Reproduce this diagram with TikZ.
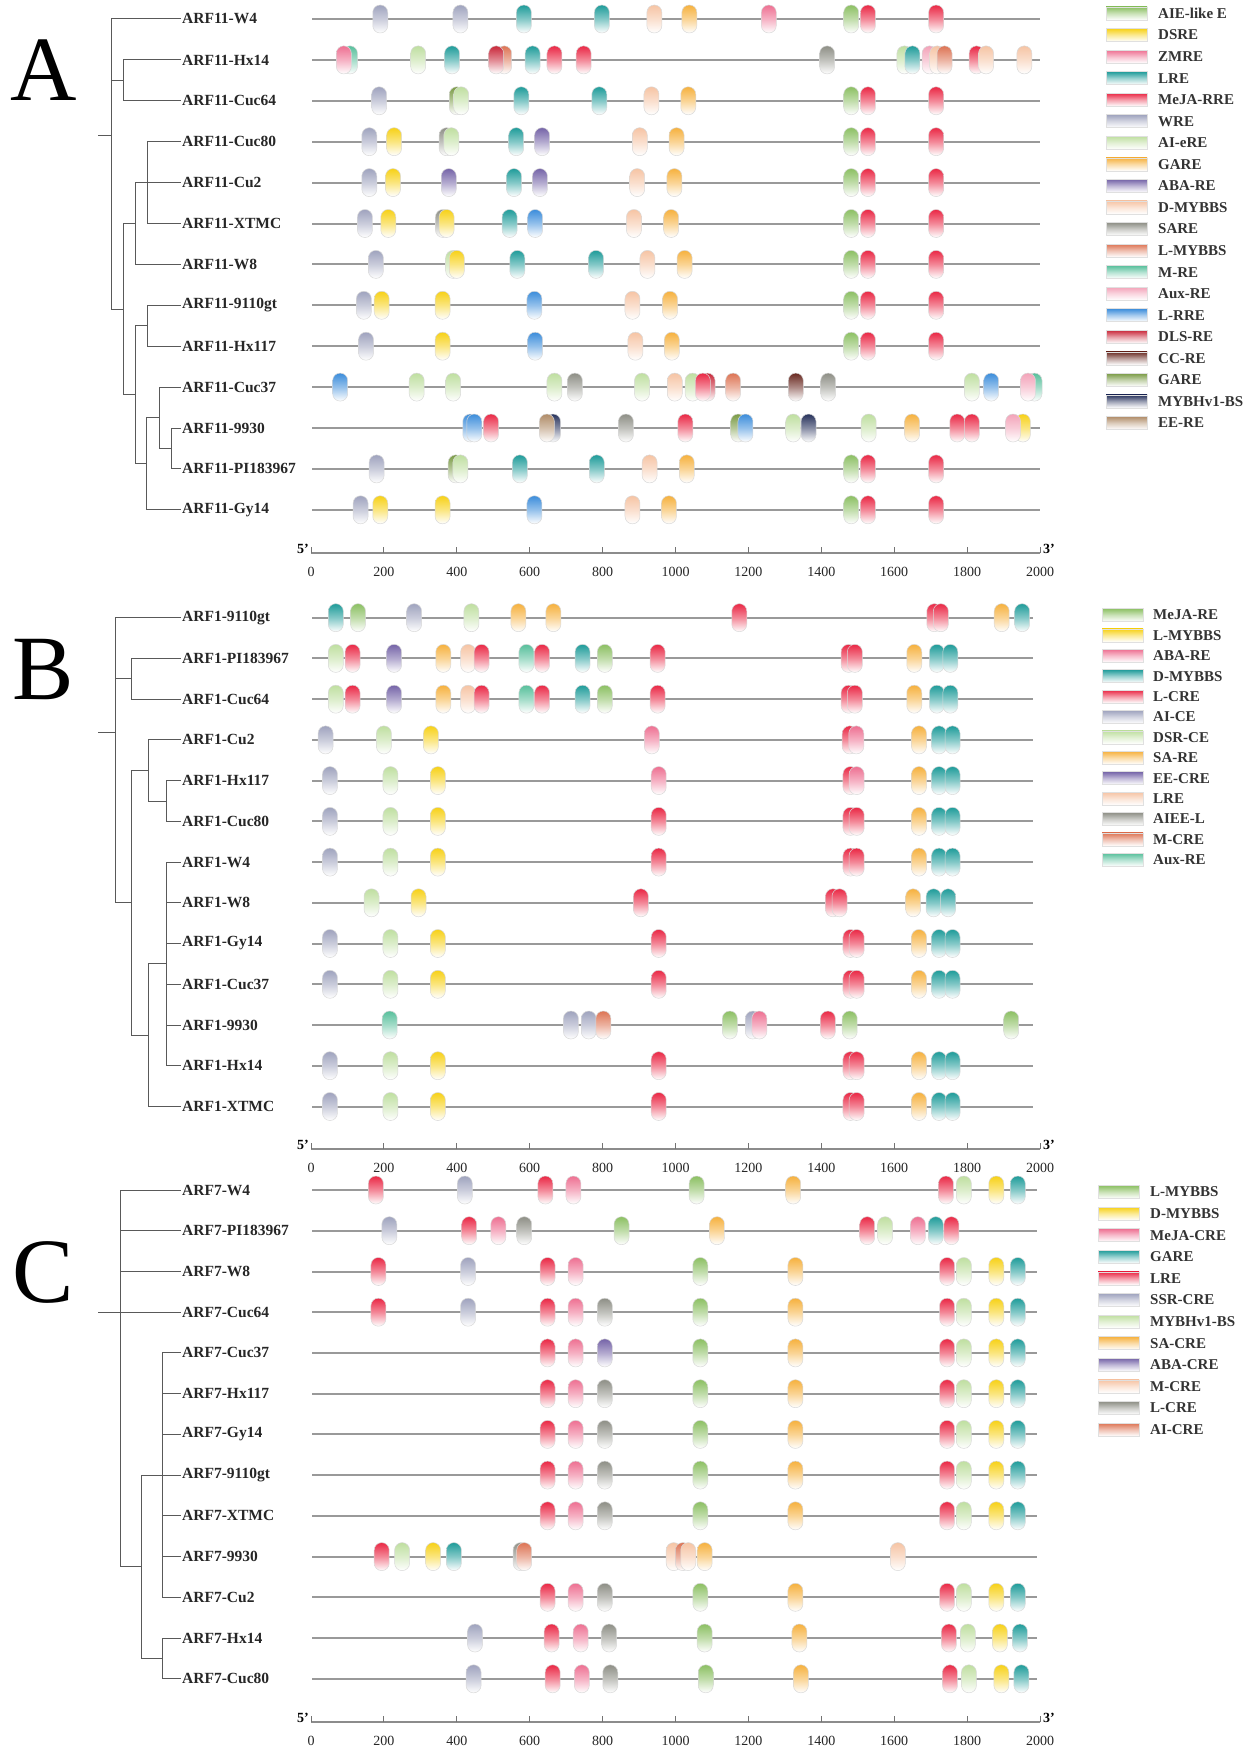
\documentclass[tikz,border=0pt]{standalone}
\usepackage{fontspec}
\setmainfont{Liberation Serif}
\usepackage{xcolor}
\definecolor{mgreen}{HTML}{8CC063}
\definecolor{myellow}{HTML}{F7D117}
\definecolor{mpink}{HTML}{EE7092}
\definecolor{mteal}{HTML}{1F9C9A}
\definecolor{mred}{HTML}{EA2845}
\definecolor{mlav}{HTML}{9FA3BE}
\definecolor{mlgreen}{HTML}{BFDFA0}
\definecolor{morange}{HTML}{F6B13E}
\definecolor{mpurple}{HTML}{7564A8}
\definecolor{mpeach}{HTML}{F6C4A4}
\definecolor{mgrey}{HTML}{8E8F86}
\definecolor{msalmon}{HTML}{DD7454}
\definecolor{mmint}{HTML}{58C09C}
\definecolor{mlpink}{HTML}{F3A3B9}
\definecolor{mblue}{HTML}{3C8DDB}
\definecolor{mcrimson}{HTML}{C9283A}
\definecolor{mbrown}{HTML}{6A2A22}
\definecolor{molive}{HTML}{7A9B45}
\definecolor{mnavy}{HTML}{27325C}
\definecolor{mtan}{HTML}{B08C68}
\tikzset{
  leaf/.style   = {anchor=west, inner sep=1pt, text=black!85,
                   font=\fontsize{15.5}{16}\selectfont\bfseries},
  tree/.style   = {draw=black!65, line width=1pt},
  gene/.style   = {draw=black!40, line width=2pt},
  motif/.style  = {rounded corners=7.4pt, draw=black!15, line width=0.5pt,
                   top color=#1, bottom color=white, middle color=#1!55!white},
  legbox/.style = {draw=black!12, line width=0.5pt,
                   top color=#1, bottom color=white, middle color=#1!45!white},
  legtxt/.style = {anchor=west, inner sep=0pt, text=black!80,
                   font=\fontsize{15}{15}\selectfont\bfseries},
  axline/.style = {draw=black!45, line width=2.2pt},
  axtick/.style = {draw=black!55, line width=1pt},
  ticklab/.style= {inner sep=0pt, text=black!85, font=\fontsize{14}{14}\selectfont},
  prime/.style  = {inner sep=0pt, font=\fontsize{14}{14}\selectfont\bfseries},
  panel/.style  = {inner sep=0pt, font=\fontsize{92}{92}\selectfont}
}

\begin{document}
\begin{tikzpicture}[x=1pt,y=-1pt]
	\def\xo{311}
	\def\bp{0.3645}
	\useasboundingbox (0,0) rectangle (1260,1758);

	% Panel letters
	\node[panel] (pA) at (44,70) {A};
	\node[panel] (pB) at (43,670) {B};
	\node[panel] (pC) at (43,1272) {C};

	%%%%%%%%%%%%%%%%%%%%%%%% A : ARF11
	% Labels
	\node[leaf] (aW4)    at (181,19)    {ARF11-W4};
	\node[leaf] (aHx14)  at (181,59.9)  {ARF11-Hx14};
	\node[leaf] (aCuc64) at (181,100.8) {ARF11-Cuc64};
	\node[leaf] (aCuc80) at (181,141.7) {ARF11-Cuc80};
	\node[leaf] (aCu2)   at (181,182.6) {ARF11-Cu2};
	\node[leaf] (aXTMC)  at (181,223.5) {ARF11-XTMC};
	\node[leaf] (aW8)    at (181,264.4) {ARF11-W8};
	\node[leaf] (a9110)  at (181,305.3) {ARF11-9110gt};
	\node[leaf] (aHx117) at (181,346.2) {ARF11-Hx117};
	\node[leaf] (aCuc37) at (181,387.1) {ARF11-Cuc37};
	\node[leaf] (a9930)  at (181,428)   {ARF11-9930};
	\node[leaf] (aPI)    at (181,468.9) {ARF11-PI183967};
	\node[leaf] (aGy14)  at (181,509.8) {ARF11-Gy14};

	% Tree
	\coordinate (aS) at (98,136);
	\coordinate (aR) at (111.7,136);
	\coordinate (a1) at (123,80.4);
	\coordinate (a2) at (123,309);
	\coordinate (a3) at (135,223.5);
	\coordinate (a4) at (147.5,182.6);
	\coordinate (a5) at (135,394.8);
	\coordinate (a6) at (147.5,325.8);
	\coordinate (a7) at (146.7,463.8);
	\coordinate (a8) at (159,417.8);
	\coordinate (a9) at (171,448.5);
	\draw[tree] (aS) -- (aR);
	\draw[tree] (aR) |- (aW4.west);
	\draw[tree] (aR) |- (a1);
	\draw[tree] (a1) |- (aHx14.west);
	\draw[tree] (a1) |- (aCuc64.west);
	\draw[tree] (aR) |- (a2);
	\draw[tree] (a2) |- (a3);
	\draw[tree] (a3) |- (a4);
	\draw[tree] (a4) |- (aCuc80.west);
	\draw[tree] (a4) -- (aCu2.west);
	\draw[tree] (a4) |- (aXTMC.west);
	\draw[tree] (a3) |- (aW8.west);
	\draw[tree] (a2) |- (a5);
	\draw[tree] (a5) |- (a6);
	\draw[tree] (a6) |- (a9110.west);
	\draw[tree] (a6) |- (aHx117.west);
	\draw[tree] (a5) |- (a7);
	\draw[tree] (a7) |- (a8);
	\draw[tree] (a8) |- (aCuc37.west);
	\draw[tree] (a8) |- (a9);
	\draw[tree] (a9) |- (a9930.west);
	\draw[tree] (a9) |- (aPI.west);
	\draw[tree] (a7) |- (aGy14.west);

	% Genes
	\foreach \y in {19,59.9,100.8,141.7,182.6,223.5,264.4,305.3,346.2,387.1,428,468.9,509.8}
		\draw[gene] (312,\y) -- (1040,\y);

	% Motifs
	\foreach \c/\p in {mlav/190,mlav/410,mteal/584,mteal/798,mpeach/942,morange/1038,mpink/1256,mgreen/1482,mred/1528,mred/1715}
		\path[motif=\c] ({\xo+\p*\bp},19) +(-7.5,-14) rectangle +(7.5,14); % W4
	\foreach \c/\p in {mmint/107,mpink/90,mlgreen/294,mteal/387,msalmon/530,mcrimson/508,mteal/608,mred/668,mred/748,mgrey/1416,mlgreen/1628,mteal/1650,mlpink/1697,mpeach/1718,msalmon/1738,mred/1826,mpeach/1852,mpeach/1957}
		\path[motif=\c] ({\xo+\p*\bp},59.9) +(-7.5,-14) rectangle +(7.5,14); % Hx14
	\foreach \c/\p in {mlav/187,molive/400,mlgreen/412,mteal/577,mteal/791,mpeach/934,morange/1035,mgreen/1482,mred/1528,mred/1715}
		\path[motif=\c] ({\xo+\p*\bp},100.8) +(-7.5,-14) rectangle +(7.5,14); % Cuc64
	\foreach \c/\p in {mlav/160,myellow/228,mgrey/372,mlgreen/385,mteal/563,mpurple/634,mpeach/902,morange/1003,mgreen/1482,mred/1528,mred/1715}
		\path[motif=\c] ({\xo+\p*\bp},141.7) +(-7.5,-14) rectangle +(7.5,14); % Cuc80
	\foreach \c/\p in {mlav/160,myellow/225,mpurple/378,mteal/557,mpurple/628,mpeach/895,morange/997,mgreen/1482,mred/1528,mred/1715}
		\path[motif=\c] ({\xo+\p*\bp},182.6) +(-7.5,-14) rectangle +(7.5,14); % Cu2
	\foreach \c/\p in {mlav/148,myellow/212,mgrey/362,myellow/372,mteal/545,mblue/615,mpeach/886,morange/988,mgreen/1482,mred/1528,mred/1715}
		\path[motif=\c] ({\xo+\p*\bp},223.5) +(-7.5,-14) rectangle +(7.5,14); % XTMC
	\foreach \c/\p in {mlav/178,mlgreen/390,myellow/400,mteal/566,mteal/782,mpeach/923,morange/1025,mgreen/1482,mred/1528,mred/1715}
		\path[motif=\c] ({\xo+\p*\bp},264.4) +(-7.5,-14) rectangle +(7.5,14); % W8
	\foreach \c/\p in {mlav/145,myellow/194,myellow/361,mblue/613,mpeach/882,morange/985,mgreen/1482,mred/1528,mred/1715}
		\path[motif=\c] ({\xo+\p*\bp},305.3) +(-7.5,-14) rectangle +(7.5,14); % 9110gt
	\foreach \c/\p in {mlav/151,myellow/361,mblue/615,mpeach/890,morange/990,mgreen/1482,mred/1528,mred/1715}
		\path[motif=\c] ({\xo+\p*\bp},346.2) +(-7.5,-14) rectangle +(7.5,14); % Hx117
	\foreach \c/\p in {mblue/80,mlgreen/290,mlgreen/390,mlgreen/668,mgrey/724,mlgreen/908,mpeach/998,mlgreen/1047,mcrimson/1088,mred/1075,msalmon/1158,mbrown/1330,mgrey/1419,mlgreen/1813,mblue/1866,mmint/1985,mlpink/1967}
		\path[motif=\c] ({\xo+\p*\bp},387.1) +(-7.5,-14) rectangle +(7.5,14); % Cuc37
	\foreach \c/\p in {mblue/437,mblue/448,mred/494,mnavy/664,mtan/647,mgrey/864,mred/1027,molive/1172,mblue/1192,mlgreen/1323,mnavy/1365,mlgreen/1530,morange/1649,mred/1773,mred/1813,myellow/1953,mlpink/1926}
		\path[motif=\c] ({\xo+\p*\bp},428) +(-7.5,-14) rectangle +(7.5,14); % 9930
	\foreach \c/\p in {mlav/180,molive/397,mlgreen/410,mteal/573,mteal/784,mpeach/929,morange/1031,mgreen/1482,mred/1528,mred/1715}
		\path[motif=\c] ({\xo+\p*\bp},468.9) +(-7.5,-14) rectangle +(7.5,14); % PI183967
	\foreach \c/\p in {mlav/136,myellow/190,myellow/361,mblue/613,mpeach/882,morange/982,mgreen/1482,mred/1528,mred/1715}
		\path[motif=\c] ({\xo+\p*\bp},509.8) +(-7.5,-14) rectangle +(7.5,14); % Gy14

	% Axis
	\draw[axline] (\xo,553) -- ({\xo+2000*\bp},553);
	\foreach \t in {0,200,...,2000} {
		\draw[axtick] ({\xo+\t*\bp},553) -- ++(0,-6);
		\node[ticklab] (tA\t) at ({\xo+\t*\bp},572) {\t};
	}
	\node[prime, anchor=east] (fA) at (309,549) {5'};
	\node[prime, anchor=west] (eA) at (1043,549) {3'};

	% Legend
	\foreach \c/\t [count=\i from 0] in {mgreen/AIE-like E,myellow/DSRE,mpink/ZMRE,mteal/LRE,mred/MeJA-RRE,mlav/WRE,mlgreen/AI-eRE,morange/GARE,mpurple/ABA-RE,mpeach/D-MYBBS,mgrey/SARE,msalmon/L-MYBBS,mmint/M-RE,mlpink/Aux-RE,mblue/L-RRE,mcrimson/DLS-RE,mbrown/CC-RE,molive/GARE,mnavy/MYBHv1-BS,mtan/EE-RE} {
		\path[legbox=\c] (1106,{13.5+21.55*\i-6.5}) rectangle ++(41,13);
		\node[legtxt] (lgA\i) at (1158,{13.5+21.55*\i}) {\t};
	}

	%%%%%%%%%%%%%%%%%%%%%%%% B : ARF1
	% Labels
	\node[leaf] (b9110)  at (181,617.7)  {ARF1-9110gt};
	\node[leaf] (bPI)    at (181,658.4)  {ARF1-PI183967};
	\node[leaf] (bCuc64) at (181,699.2)  {ARF1-Cuc64};
	\node[leaf] (bCu2)   at (181,739.9)  {ARF1-Cu2};
	\node[leaf] (bHx117) at (181,780.6)  {ARF1-Hx117};
	\node[leaf] (bCuc80) at (181,821.4)  {ARF1-Cuc80};
	\node[leaf] (bW4)    at (181,862.1)  {ARF1-W4};
	\node[leaf] (bW8)    at (181,902.8)  {ARF1-W8};
	\node[leaf] (bGy14)  at (181,943.5)  {ARF1-Gy14};
	\node[leaf] (bCuc37) at (181,984.3)  {ARF1-Cuc37};
	\node[leaf] (b9930)  at (181,1025)   {ARF1-9930};
	\node[leaf] (bHx14)  at (181,1065.7) {ARF1-Hx14};
	\node[leaf] (bXTMC)  at (181,1106.5) {ARF1-XTMC};

	% Tree
	\coordinate (bS) at (98,732);
	\coordinate (bR) at (115,732);
	\coordinate (b1) at (131.7,678.8);
	\coordinate (b4) at (131.7,902.9);
	\coordinate (b5) at (148,770.5);
	\coordinate (b6) at (166,801);
	\coordinate (b7) at (148,1035.2);
	\coordinate (b8) at (166,963.9);
	\draw[tree] (bS) -- (bR);
	\draw[tree] (bR) |- (b9110.west);
	\draw[tree] (bR) |- (b1);
	\draw[tree] (b1) |- (bPI.west);
	\draw[tree] (b1) |- (bCuc64.west);
	\draw[tree] (bR) |- (b4);
	\draw[tree] (b4) |- (b5);
	\draw[tree] (b5) |- (bCu2.west);
	\draw[tree] (b5) |- (b6);
	\draw[tree] (b6) |- (bHx117.west);
	\draw[tree] (b6) |- (bCuc80.west);
	\draw[tree] (b4) |- (b7);
	\draw[tree] (b7) |- (b8);
	\draw[tree] (b8) |- (bW4.west);
	\draw[tree] (b8) |- (bW8.west);
	\draw[tree] (b8) |- (bGy14.west);
	\draw[tree] (b8) |- (bCuc37.west);
	\draw[tree] (b8) |- (b9930.west);
	\draw[tree] (b8) |- (bHx14.west);
	\draw[tree] (b7) |- (bXTMC.west);

	% Genes
	\foreach \y in {617.7,658.4,699.2,739.9,780.6,821.4,862.1,902.8,943.5,984.3,1025,1065.7,1106.5}
		\draw[gene] (312,\y) -- (1033,\y);

	% Motifs
	\foreach \c/\p in {mteal/68,mgreen/129,mlav/283,mlgreen/440,morange/569,morange/665,mred/1175,mred/1710,mred/1728,morange/1895,mteal/1951}
		\path[motif=\c] ({\xo+\p*\bp},617.7) +(-7.5,-14) rectangle +(7.5,14); % 9110gt
	\foreach \c/\p in {mlgreen/68,mred/114,mpurple/228,morange/363,mpeach/431,mred/468,mmint/591,mred/634,mteal/745,mgreen/806,mred/951,mred/1475,mred/1492,morange/1655,mteal/1717,mteal/1754}
		\path[motif=\c] ({\xo+\p*\bp},658.4) +(-7.5,-14) rectangle +(7.5,14); % PI183967
	\foreach \c/\p in {mlgreen/68,mred/114,mpurple/228,morange/363,mpeach/431,mred/468,mmint/591,mred/634,mteal/745,mgreen/806,mred/951,mred/1475,mred/1492,morange/1655,mteal/1717,mteal/1754}
		\path[motif=\c] ({\xo+\p*\bp},699.2) +(-7.5,-14) rectangle +(7.5,14); % Cuc64
	\foreach \c/\p in {mlav/40,mlgreen/200,myellow/329,mpink/935,mred/1478,mpink/1496,morange/1668,mteal/1723,mteal/1760}
		\path[motif=\c] ({\xo+\p*\bp},739.9) +(-7.5,-14) rectangle +(7.5,14); % Cu2
	\foreach \c/\p in {mlav/52,mlgreen/218,myellow/348,mpink/954,mred/1480,mpink/1497,morange/1668,mteal/1723,mteal/1760}
		\path[motif=\c] ({\xo+\p*\bp},780.6) +(-7.5,-14) rectangle +(7.5,14); % Hx117
	\foreach \y in {821.4,862.1,943.5,984.3,1065.7,1106.5}
		\foreach \c/\p in {mlav/52,mlgreen/218,myellow/348,mred/954,mred/1480,mred/1497,morange/1668,mteal/1723,mteal/1760}
			\path[motif=\c] ({\xo+\p*\bp},\y) +(-7.5,-14) rectangle +(7.5,14); % Cuc80 W4 Gy14 Cuc37 Hx14 XTMC
	\foreach \c/\p in {mlgreen/166,myellow/295,mred/905,mred/1432,mred/1450,morange/1652,mteal/1708,mteal/1748}
		\path[motif=\c] ({\xo+\p*\bp},902.8) +(-7.5,-14) rectangle +(7.5,14); % W8
	\foreach \c/\p in {mmint/216,mlav/713,mlav/762,msalmon/802,mgreen/1149,mlav/1212,mpink/1230,mred/1418,mgreen/1478,mgreen/1921}
		\path[motif=\c] ({\xo+\p*\bp},1025) +(-7.5,-14) rectangle +(7.5,14); % 9930

	% Axis
	\draw[axline] (\xo,1149) -- ({\xo+2000*\bp},1149);
	\foreach \t in {0,200,...,2000} {
		\draw[axtick] ({\xo+\t*\bp},1149) -- ++(0,-6);
		\node[ticklab] (tB\t) at ({\xo+\t*\bp},1168) {\t};
	}
	\node[prime, anchor=east] (fB) at (309,1145) {5'};
	\node[prime, anchor=west] (eB) at (1043,1145) {3'};

	% Legend
	\foreach \c/\t [count=\i from 0] in {mgreen/MeJA-RE,myellow/L-MYBBS,mpink/ABA-RE,mteal/D-MYBBS,mred/L-CRE,mlav/AI-CE,mlgreen/DSR-CE,morange/SA-RE,mpurple/EE-CRE,mpeach/LRE,mgrey/AIEE-L,msalmon/M-CRE,mmint/Aux-RE} {
		\path[legbox=\c] (1102,{615+20.4*\i-6.5}) rectangle ++(41,13);
		\node[legtxt] (lgB\i) at (1153,{615+20.4*\i}) {\t};
	}

	%%%%%%%%%%%%%%%%%%%%%%%% C : ARF7
	% Labels
	\node[leaf] (cW4)    at (181,1190)   {ARF7-W4};
	\node[leaf] (cPI)    at (181,1230.7) {ARF7-PI183967};
	\node[leaf] (cW8)    at (181,1271.5) {ARF7-W8};
	\node[leaf] (cCuc64) at (181,1312.2) {ARF7-Cuc64};
	\node[leaf] (cCuc37) at (181,1352.9) {ARF7-Cuc37};
	\node[leaf] (cHx117) at (181,1393.7) {ARF7-Hx117};
	\node[leaf] (cGy14)  at (181,1434.4) {ARF7-Gy14};
	\node[leaf] (c9110)  at (181,1475.1) {ARF7-9110gt};
	\node[leaf] (cXTMC)  at (181,1515.8) {ARF7-XTMC};
	\node[leaf] (c9930)  at (181,1556.6) {ARF7-9930};
	\node[leaf] (cCu2)   at (181,1597.3) {ARF7-Cu2};
	\node[leaf] (cHx14)  at (181,1638)   {ARF7-Hx14};
	\node[leaf] (cCuc80) at (181,1678.8) {ARF7-Cuc80};

	% Tree
	\coordinate (cS) at (98,1312.2);
	\coordinate (cR) at (120,1312.2);
	\coordinate (c2) at (141,1566.8);
	\coordinate (c3) at (162.7,1475.1);
	\coordinate (c4) at (162.7,1658.4);
	\draw[tree] (cS) -- (cCuc64.west);
	\draw[tree] (cR) |- (cW4.west);
	\draw[tree] (cR) |- (cPI.west);
	\draw[tree] (cR) |- (cW8.west);
	\draw[tree] (cR) |- (c2);
	\draw[tree] (c2) |- (c3);
	\draw[tree] (c3) |- (cCuc37.west);
	\draw[tree] (c3) |- (cHx117.west);
	\draw[tree] (c3) |- (cGy14.west);
	\draw[tree] (c3) -- (c9110.west);
	\draw[tree] (c3) |- (cXTMC.west);
	\draw[tree] (c3) |- (c9930.west);
	\draw[tree] (c3) |- (cCu2.west);
	\draw[tree] (c2) |- (c4);
	\draw[tree] (c4) |- (cHx14.west);
	\draw[tree] (c4) |- (cCuc80.west);

	% Genes
	\foreach \y in {1190,1230.7,1271.5,1312.2,1352.9,1393.7,1434.4,1475.1,1515.8,1556.6,1597.3,1638,1678.8}
		\draw[gene] (312,\y) -- (1037,\y);

	% Motifs
	\foreach \c/\p in {mred/178,mlav/422,mred/643,mpink/720,mgreen/1058,morange/1323,mred/1742,mlgreen/1791,myellow/1880,mteal/1939}
		\path[motif=\c] ({\xo+\p*\bp},1190) +(-7.5,-14) rectangle +(7.5,14); % W4
	\foreach \c/\p in {mlav/215,mred/434,mpink/514,mgrey/585,mgreen/852,morange/1114,mred/1526,mlgreen/1575,mpink/1665,mteal/1714,mred/1757}
		\path[motif=\c] ({\xo+\p*\bp},1230.7) +(-7.5,-14) rectangle +(7.5,14); % PI183967
	\foreach \c/\p in {mred/185,mlav/431,mred/649,mpink/726,mgreen/1068,morange/1329,mred/1745,mlgreen/1791,myellow/1880,mteal/1939}
		\path[motif=\c] ({\xo+\p*\bp},1271.5) +(-7.5,-14) rectangle +(7.5,14); % W8
	\foreach \c/\p in {mred/185,mlav/431,mred/649,mpink/726,mgrey/806,mgreen/1068,morange/1329,mred/1745,mlgreen/1791,myellow/1880,mteal/1939}
		\path[motif=\c] ({\xo+\p*\bp},1312.2) +(-7.5,-14) rectangle +(7.5,14); % Cuc64
	\foreach \c/\p in {mred/649,mpink/726,mpurple/806,mgreen/1068,morange/1329,mred/1745,mlgreen/1791,myellow/1880,mteal/1939}
		\path[motif=\c] ({\xo+\p*\bp},1352.9) +(-7.5,-14) rectangle +(7.5,14); % Cuc37
	\foreach \y in {1393.7,1434.4,1475.1,1515.8,1597.3}
		\foreach \c/\p in {mred/649,mpink/726,mgrey/806,mgreen/1068,morange/1329,mred/1745,mlgreen/1791,myellow/1880,mteal/1939}
			\path[motif=\c] ({\xo+\p*\bp},\y) +(-7.5,-14) rectangle +(7.5,14); % Hx117 Gy14 9110gt XTMC Cu2
	\foreach \c/\p in {mred/194,mlgreen/250,myellow/335,mteal/392,mgrey/575,msalmon/585,mpeach/995,msalmon/1020,mpeach/1035,morange/1080,mpeach/1610}
		\path[motif=\c] ({\xo+\p*\bp},1556.6) +(-7.5,-14) rectangle +(7.5,14); % 9930
	\foreach \c/\p in {mlav/450,mred/660,mpink/740,mgrey/818,mgreen/1080,morange/1340,mred/1750,mlgreen/1802,myellow/1890,mteal/1945}
		\path[motif=\c] ({\xo+\p*\bp},1638) +(-7.5,-14) rectangle +(7.5,14); % Hx14
	\foreach \c/\p in {mlav/446,mred/663,mpink/743,mgrey/821,mgreen/1083,morange/1344,mred/1753,mlgreen/1805,myellow/1894,mteal/1949}
		\path[motif=\c] ({\xo+\p*\bp},1678.8) +(-7.5,-14) rectangle +(7.5,14); % Cuc80

	% Axis
	\draw[axline] (\xo,1722) -- ({\xo+2000*\bp},1722);
	\foreach \t in {0,200,...,2000} {
		\draw[axtick] ({\xo+\t*\bp},1722) -- ++(0,-6);
		\node[ticklab] (tC\t) at ({\xo+\t*\bp},1741) {\t};
	}
	\node[prime, anchor=east] (fC) at (309,1718) {5'};
	\node[prime, anchor=west] (eC) at (1043,1718) {3'};

	% Legend
	\foreach \c/\t [count=\i from 0] in {mgreen/L-MYBBS,myellow/D-MYBBS,mpink/MeJA-CRE,mteal/GARE,mred/LRE,mlav/SSR-CRE,mlgreen/MYBHv1-BS,morange/SA-CRE,mpurple/ABA-CRE,mpeach/M-CRE,mgrey/L-CRE,msalmon/AI-CRE} {
		\path[legbox=\c] (1098,{1192+21.6*\i-6.5}) rectangle ++(41,13);
		\node[legtxt] (lgC\i) at (1150,{1192+21.6*\i}) {\t};
	}
\end{tikzpicture}
\end{document}
